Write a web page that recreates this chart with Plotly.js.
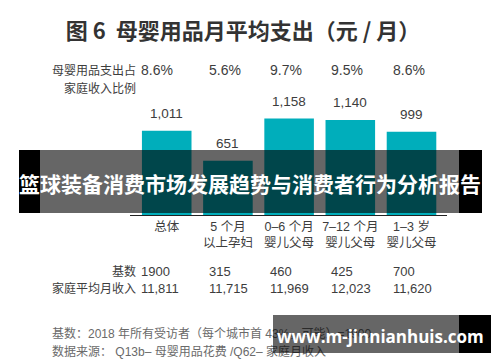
<!DOCTYPE html>
<html><head><meta charset="utf-8">
<script src="https://cdn.plot.ly/plotly-3.0.1.min.js"></script>
<style>html,body{margin:0;padding:0;background:#fff}</style>
</head><body><div id="chart" style="width:500px;height:362px"></div>
<script>
// ---- data ----
const categories = ["总体", "5 个月<br>以上孕妇", "0–6 个月<br>婴儿父母", "7–12 个月<br>婴儿父母", "1–3 岁<br>婴儿父母"];
const spending = [1011, 651, 1158, 1140, 999];
const spendingLabels = ["1,011", "651", "1,158", "1,140", "999"];
const shareOfIncome = ["8.6%", "5.6%", "9.7%", "9.5%", "8.6%"];
const baseCounts = ["1900", "315", "460", "425", "700"];
const avgIncome = ["11,811", "11,715", "11,969", "12,023", "11,620"];
const titleText = "图 6  母婴用品月平均支出（元 / 月）";
const bannerText = "篮球装备消费市场发展趋势与消费者行为分析报告";
const watermarkText = "www.m-jinnianhuis.com";
const footnote1 = "基数：2018 年所有受访者（每个城市首 43%，可能）=1900";
const footnote2 = "数据来源： Q13b– 母婴用品花费 /Q62– 家庭月收入";

// ---- layout helpers ----
const L = 130, R = 53, T = 98, B = 147, WIDTH = 500, HEIGHT = 362;
const PW = WIDTH - L - R, PH = HEIGHT - T - B;
const px = X => (X - L) / PW;
const py = Y => (HEIGHT - B - Y) / PH;
const CJK = "Liberation Sans, Arial, Noto Sans CJK SC, sans-serif";
const TXT = "#3d3d3d";

const annotations = [];
// value labels above bars
spending.forEach((v, i) => annotations.push({
  x: i, y: v, xref: 'x', yref: 'y', text: spendingLabels[i], showarrow: false,
  yanchor: 'bottom', yshift: 8, font: {family: CJK, size: 13.5, color: TXT}
}));
// column text rows
const colShift = i => (i === 0 ? -28 : -21);
shareOfIncome.forEach((t, i) => annotations.push({
  x: i, y: py(70), xref: 'x', yref: 'paper', text: t, showarrow: false,
  xanchor: 'left', xshift: colShift(i), yanchor: 'middle', font: {family: CJK, size: 14, color: TXT}
}));
baseCounts.forEach((t, i) => annotations.push({
  x: i, y: py(271), xref: 'x', yref: 'paper', text: t, showarrow: false,
  xanchor: 'left', xshift: colShift(i), yanchor: 'middle', font: {family: CJK, size: 13, color: TXT}
}));
avgIncome.forEach((t, i) => annotations.push({
  x: i, y: py(288.5), xref: 'x', yref: 'paper', text: t, showarrow: false,
  xanchor: 'left', xshift: colShift(i), yanchor: 'middle', font: {family: CJK, size: 13, color: TXT}
}));
// row labels
[["母婴用品支出占", 70], ["家庭收入比例", 88.5], ["基数", 271], ["家庭平均月收入", 288.5]].forEach(([t, y]) =>
  annotations.push({x: px(138), y: py(y), xref: 'paper', yref: 'paper', text: t, showarrow: false,
    xanchor: 'right', yanchor: 'middle', font: {family: CJK, size: 12, color: TXT}}));
// footnotes
[[footnote1, 333.5], [footnote2, 351]].forEach(([t, y]) =>
  annotations.push({x: px(50), y: py(y), xref: 'paper', yref: 'paper', text: t, showarrow: false,
    xanchor: 'left', yanchor: 'middle', font: {family: CJK, size: 12, color: '#6a6a6a'}}));

// overlay boxes (drawn as annotations so they cover earlier text)
const box = (x0, x1, y0, y1, color) => annotations.push({
  x: px(x0), y: py(y0), xref: 'paper', yref: 'paper', xanchor: 'left', yanchor: 'top',
  width: x1 - x0, height: y1 - y0, borderpad: 0, borderwidth: 0, text: ' ', showarrow: false,
  bgcolor: color
});
box(19, 482, 150, 213, 'rgba(0,0,0,0.6)');
box(19, 40, 150, 213, '#000');
box(459, 482, 150, 213, '#000');
annotations.push({x: px(250), y: py(183), xref: 'paper', yref: 'paper', text: '<b>' + bannerText + '</b>',
  showarrow: false, xanchor: 'center', yanchor: 'middle',
  font: {family: 'Noto Sans CJK SC', size: 21, color: '#fff'}});
box(273, 459, 315, 353, 'rgba(0,0,0,0.6)');
box(459, 491, 315, 353, '#000');
annotations.push({x: px(275), y: py(336.5), xref: 'paper', yref: 'paper', text: '<b>' + watermarkText + '</b>',
  showarrow: false, xanchor: 'left', yanchor: 'middle',
  font: {family: 'Open Sans', size: 17, color: '#fff'}});

const trace = {
  type: 'bar', x: categories, y: spending,
  marker: {color: '#00aebb', line: {width: 0}},
  hoverinfo: 'none'
};

const layout = {
  width: WIDTH, height: HEIGHT,
  margin: {l: L, r: R, t: T, b: B, pad: 0},
  paper_bgcolor: '#fff', plot_bgcolor: '#fff',
  showlegend: false, bargap: 0.19,
  title: {text: '<b>' + titleText + '</b>', x: px(243), xref: 'paper', xanchor: 'center',
    y: 1 - 31.5 / HEIGHT, yref: 'container', yanchor: 'middle',
    font: {family: 'Noto Sans CJK SC', size: 22, color: '#333'}},
  xaxis: {
    type: 'category', range: [-0.6, 4.58], fixedrange: true,
    showline: true, linecolor: '#222', linewidth: 1, ticks: '', showgrid: false, zeroline: false,
    tickfont: {family: CJK, size: 12.5, color: TXT}
  },
  yaxis: {range: [0, 1404], visible: false, fixedrange: true, showgrid: false, zeroline: false},
  annotations: annotations
};

Plotly.newPlot('chart', [trace], layout, {displayModeBar: false, staticPlot: true});
</script></body></html>
